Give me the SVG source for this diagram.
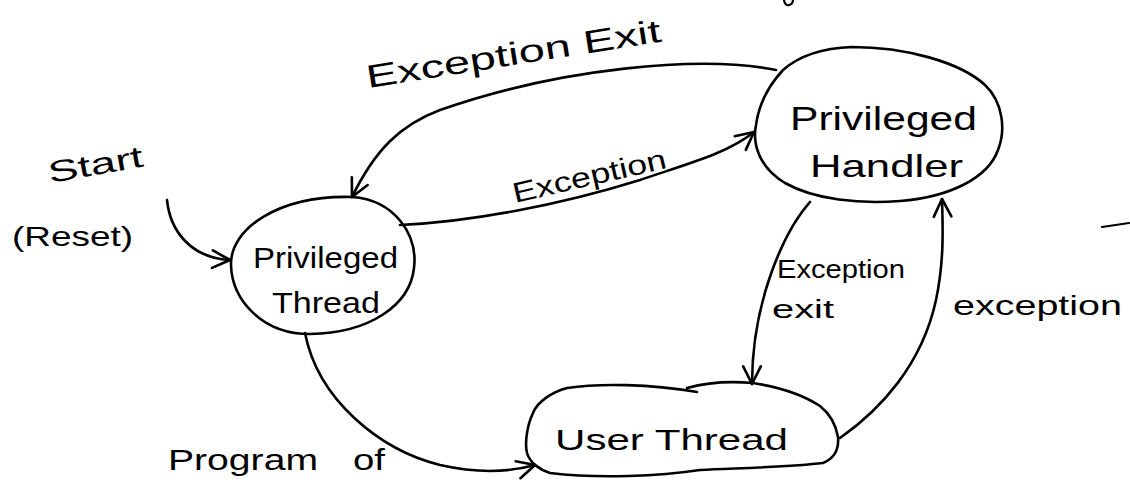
<svg xmlns="http://www.w3.org/2000/svg" width="1130" height="497" viewBox="0 0 1130 497">
  <style>
    .node { fill: none; stroke: #000; stroke-width: 2.6; stroke-linecap: round; stroke-linejoin: round; }
    .edge { fill: none; stroke: #000; stroke-width: 2.6; stroke-linecap: round; }
    .lbl { font-family: "Liberation Sans", "DejaVu Sans", sans-serif; fill: #000; }
    .mark { fill: none; stroke: #000; stroke-width: 2.2; stroke-linecap: round; }
  </style>
  <defs>
    <marker id="open-arrow" markerUnits="userSpaceOnUse" markerWidth="22" markerHeight="22" viewBox="0 0 20 20" refX="18" refY="10" orient="auto">
      <path d="M2,2 L18,10 L2,18" fill="none" stroke="#000" stroke-width="2.4" stroke-linecap="round" stroke-linejoin="round"/>
    </marker>
  </defs>

  <rect width="1130" height="497" fill="#fff"/>

  <!-- transitions -->
  <g id="connectors">
    <!-- Start (Reset) into Privileged Thread -->
    <path class="edge" d="M167,200 C170,230 190,258 230,260" marker-end="url(#open-arrow)"/>
    <!-- Privileged Handler back to Privileged Thread -->
    <path class="edge" d="M776,70 C700,55 560,68 440,110 C400,125 375,150 352,197" marker-end="url(#open-arrow)"/>
    <!-- Privileged Thread to Privileged Handler -->
    <path class="edge" d="M400,225 C470,222 560,205 640,180 C690,163 728,153 754,132" marker-end="url(#open-arrow)"/>
    <!-- Privileged Handler to User Thread -->
    <path class="edge" d="M810,202 C785,230 752,300 752,384" marker-end="url(#open-arrow)"/>
    <!-- User Thread to Privileged Handler -->
    <path class="edge" d="M840,438 C880,410 922,365 936,300 C944,262 943,230 942,199" marker-end="url(#open-arrow)"/>
    <!-- Privileged Thread to User Thread -->
    <path class="edge" d="M305,333 C318,400 380,450 440,465 C480,474 510,472 535,465" marker-end="url(#open-arrow)"/>
  </g>

  <g id="privileged-thread">
    <path class="node" d="M352,197 C395,200 418,235 414,268 C410,305 370,333 310,334 C262,334 232,300 231,265 C230,228 280,195 352,197 Z"/>
    <text class="lbl" x="253" y="268" font-size="30" textLength="145" lengthAdjust="spacingAndGlyphs">Privileged</text>
    <text class="lbl" x="272" y="313" font-size="30" textLength="108" lengthAdjust="spacingAndGlyphs">Thread</text>
  </g>

  <g id="privileged-handler">
    <path class="node" d="M783,70 C800,55 825,48 852,47 C905,47 960,62 985,85 C1003,102 1006,130 998,150 C988,178 950,197 900,201 C860,204 815,200 785,183 C760,168 752,145 756,125 C759,103 770,84 783,70 Z"/>
    <text class="lbl" x="790" y="130" font-size="34" textLength="187" lengthAdjust="spacingAndGlyphs">Privileged</text>
    <text class="lbl" x="810" y="177" font-size="32" textLength="153" lengthAdjust="spacingAndGlyphs">Handler</text>
  </g>

  <g id="user-thread">
    <path class="node" d="M697,392 C650,384 600,383 567,388 C552,392 537,402 533,413 C526,428 525,445 527,453 C530,463 540,470 550,473 C600,479 660,476 700,470 C740,468 790,467 823,463 C835,458 839,448 838,437 C836,425 830,414 820,406 C805,396 785,388 753,383 C730,381 705,383 687,388"/>
    <text class="lbl" x="555" y="450" font-size="30" textLength="233" lengthAdjust="spacingAndGlyphs">User Thread</text>
  </g>

  <!-- transition labels -->
  <g id="labels">
    <text class="lbl" x="50" y="183" font-size="30" textLength="96" lengthAdjust="spacingAndGlyphs" transform="rotate(-10 50 183)">Start</text>
    <text class="lbl" x="12" y="246" font-size="28" textLength="121" lengthAdjust="spacingAndGlyphs">(Reset)</text>
    <text class="lbl" x="368" y="88" font-size="32" textLength="298" lengthAdjust="spacingAndGlyphs" transform="rotate(-9 368 88)">Exception Exit</text>
    <text class="lbl" x="515" y="203" font-size="28" textLength="157" lengthAdjust="spacingAndGlyphs" transform="rotate(-13 515 203)">Exception</text>
    <text class="lbl" x="777" y="278" font-size="26" textLength="128" lengthAdjust="spacingAndGlyphs">Exception</text>
    <text class="lbl" x="772" y="318" font-size="26" textLength="62" lengthAdjust="spacingAndGlyphs">exit</text>
    <text class="lbl" x="953" y="315" font-size="28" textLength="169" lengthAdjust="spacingAndGlyphs">exception</text>
    <text class="lbl" y="470" font-size="30"><tspan x="168" textLength="150" lengthAdjust="spacingAndGlyphs">Program</tspan><tspan x="353" textLength="32" lengthAdjust="spacingAndGlyphs">of</tspan></text>
  </g>

  <!-- stray pen marks -->
  <g id="marks">
    <path class="mark" d="M1102,227 L1129,223"/>
    <path class="mark" d="M784,0 Q785,6 789,5 Q793,4 793,0"/>
  </g>
</svg>
